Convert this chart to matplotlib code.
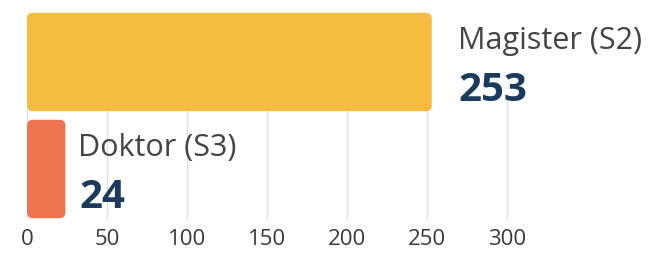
import matplotlib.pyplot as plt
from matplotlib.patches import FancyBboxPatch

# Data
labels = ["Doktor (S3)", "Magister (S2)"]
values = [24, 253]
colors = ["#EE7450", "#F5BC42"]
ticks = [0, 50, 100, 150, 200, 250, 300]

plt.rcParams['font.family'] = ['Open Sans', 'DejaVu Sans']

fig = plt.figure(figsize=(6.7, 2.55), dpi=100)
ax = fig.add_axes([27 / 670, (255 - 223.5) / 255, (670 - 27) / 670, 214 / 255])

bars = ax.barh(range(len(values)), values, height=0.92, color=colors, zorder=2)

# swap plain bars for rounded ones
x_px = 1.6      # pixels per x unit
y_px = 107.0    # pixels per y unit
for b in bars:
    x, y, w, h = b.get_x(), b.get_y(), b.get_width(), b.get_height()
    b.set_visible(False)
    r = 6 / x_px
    box = FancyBboxPatch((x, y), w, h,
                         boxstyle=f"round,pad=0,rounding_size={r}",
                         mutation_aspect=x_px / y_px,
                         facecolor=b.get_facecolor(), edgecolor="none", zorder=2)
    ax.add_patch(box)

ax.set_xlim(0, (670 - 27) / 1.6)
ax.set_ylim(-0.5, 1.5)
ax.set_xticks(ticks)
ax.set_yticks([])
# grid lines only in the lower part
ax.vlines(ticks, -0.47, 0.65, color="#e0e0e0", linewidth=1, zorder=0)
ax.tick_params(axis="x", length=0, labelsize=16, labelcolor="#3a3a3a", pad=4)
for s in ax.spines.values():
    s.set_visible(False)

offsets = [13, 26]
for i, (lab, v) in enumerate(zip(labels, values)):
    ax.annotate(lab, (v, i), xytext=(offsets[i], 14), textcoords="offset pixels",
                ha="left", va="baseline", fontsize=22, color="#444444")
    ax.annotate(str(v), (v, i), xytext=(offsets[i] + 1, -38), textcoords="offset pixels",
                ha="left", va="baseline", fontsize=29, fontweight="bold", color="#1B3A5C")

fig.savefig("out.png", dpi=100)
